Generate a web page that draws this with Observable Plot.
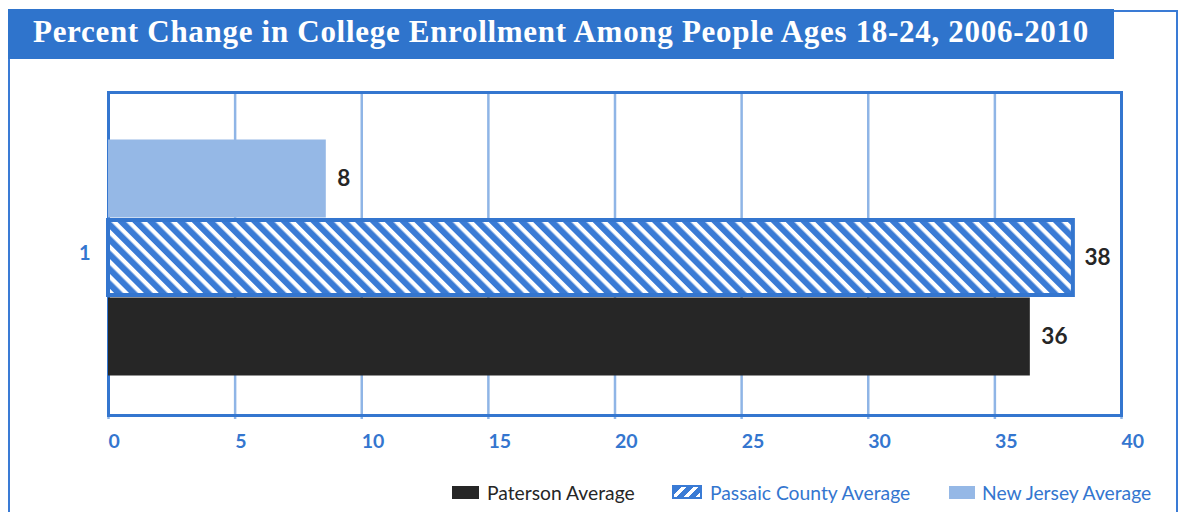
<!DOCTYPE html>
<html>
<head>
<meta charset="utf-8">
<script src="https://cdn.jsdelivr.net/npm/d3@7"></script>
<script src="https://cdn.jsdelivr.net/npm/@observablehq/plot@0.6"></script>
<style>
  body { margin: 0; background: #fff; }
  #wrap { position: relative; width: 1183px; height: 512px; overflow: hidden; background: #fff; }
  #outer { position: absolute; left: 8px; top: 10px; width: 1170px; height: 600px; border: 2.5px solid #3a7bd5; box-sizing: border-box; }
  #title { position: absolute; left: 8px; top: 9px; width: 1106px; height: 50px; padding-bottom: 4px; box-sizing: border-box; background: #2f74cc; color: #fff;
           font: bold 31px "Liberation Serif", serif; letter-spacing: 0.7px; display: flex; align-items: center; justify-content: center; white-space: nowrap; }
  #chart { position: absolute; left: 0; top: 60px; }
  .li { position: absolute; top: 479px; height: 26px; display: flex; align-items: center; font: 19.3px Lato, sans-serif; white-space: nowrap; }
  .sw { display: inline-block; margin-right: 8px; box-sizing: border-box; }
</style>
</head>
<body>
<div id="wrap">
  <div id="outer"></div>
  <div id="title"></div>
  <div id="chart"></div>
</div>
<script>
const titleText = "Percent Change in College Enrollment Among People Ages 18-24, 2006-2010";
const series = ["New Jersey Average", "Passaic County Average", "Paterson Average"];
const values = [8.6, 38.1, 36.4];
const valueLabels = ["8", "38", "36"];
const categories = ["1"];
const xTicks = [0, 5, 10, 15, 20, 25, 30, 35, 40];
const legendOrder = ["Paterson Average", "Passaic County Average", "New Jersey Average"];

const frameBlue = "#3476cf";
const gridBlue = "#8fb5e6";
const lightBlue = "#95b8e6";
const dark = "#262626";

const data = series.map((s, i) => ({series: s, value: values[i], label: valueLabels[i], category: categories[0]}));

document.getElementById("title").textContent = titleText;

const chart = Plot.plot({
  width: 1183,
  height: 400,
  marginLeft: 108,
  marginRight: 62,
  marginTop: 32,
  marginBottom: 45,
  style: {fontFamily: "Lato, sans-serif", background: "transparent"},
  x: {domain: [0, 40]},
  y: {domain: series, range: [79, 316], padding: 0, axis: null},
  color: {domain: series, range: [lightBlue, "url(#hatch)", dark]},
  marks: [
    Plot.gridX(xTicks, {stroke: gridBlue, strokeOpacity: 1, strokeWidth: 2.5}),
    Plot.axisX(xTicks, {tickSize: 4, stroke: gridBlue, strokeWidth: 2.5, fill: frameBlue, fontSize: 19.5, fontWeight: "bold",
                        textAnchor: "start", tickPadding: 15, label: null}),
    Plot.frame({stroke: frameBlue, strokeWidth: 3}),
    Plot.barX(data, {x: "value", y: "series", fill: "series", insetTop: 0.5, insetBottom: 0.5}),
    Plot.barX(data.filter(d => d.series === series[1]), {x: "value", y: "series", fill: "none", stroke: frameBlue, strokeWidth: 4, insetTop: 2, insetBottom: 2}),
    Plot.text(data, {x: "value", y: "series", text: "label", dx: 11, textAnchor: "start", fontSize: 22.5, fontWeight: "bold", fill: dark}),
    Plot.text(categories, {frameAnchor: "left", text: d => d, dx: -18, textAnchor: "end", fontSize: 20, fontWeight: "bold", fill: frameBlue})
  ]
});

// hatch pattern definition
const svg = d3.select(chart);
const defs = svg.insert("defs", ":first-child");
const pat = defs.append("pattern")
  .attr("id", "hatch")
  .attr("patternUnits", "userSpaceOnUse")
  .attr("width", 10.5).attr("height", 10.5)
  .attr("patternTransform", "rotate(-45)");
pat.append("rect").attr("width", 10.5).attr("height", 10.5).attr("fill", "#ffffff");
pat.append("rect").attr("width", 6.2).attr("height", 10.5).attr("fill", "#3a7bd5");

document.getElementById("chart").appendChild(chart);

// legend
const legendLeft = {"Paterson Average": 452, "Passaic County Average": 672, "New Jersey Average": 949};
const wrap = document.getElementById("wrap");
legendOrder.forEach(name => {
  const item = document.createElement("div");
  item.className = "li";
  item.style.left = legendLeft[name] + "px";
  const sw = document.createElement("span");
  sw.className = "sw";
  const txt = document.createElement("span");
  txt.textContent = name;
  if (name === "Paterson Average") {
    sw.style.cssText = `width:27px;height:13px;background:${dark};`;
    txt.style.color = dark;
  } else if (name === "Passaic County Average") {
    sw.style.cssText = `width:30px;height:14px;border:2px solid #3a7bd5;background:repeating-linear-gradient(135deg,#3a7bd5 0 5px,#fff 5px 8.5px);`;
    txt.style.color = frameBlue;
  } else {
    sw.style.cssText = `width:26px;height:13px;background:${lightBlue};margin-right:7px;`;
    txt.style.color = frameBlue;
  }
  item.appendChild(sw);
  item.appendChild(txt);
  wrap.appendChild(item);
});
</script>
</body>
</html>
